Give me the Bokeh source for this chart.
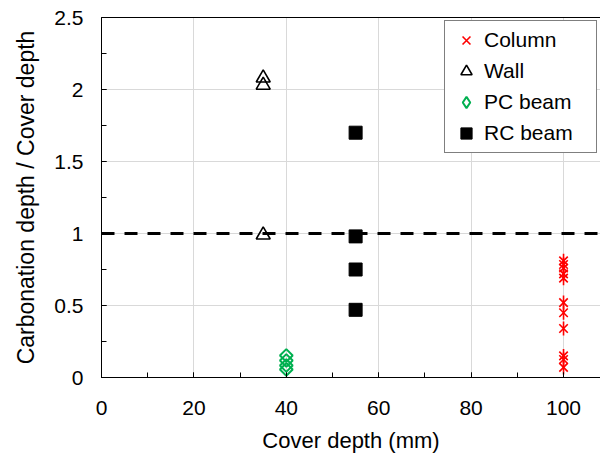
from bokeh.plotting import figure
from bokeh.models import (Span, Legend, LegendItem, LinearAxis, FixedTicker,
                          CustomJSTickFormatter, Range1d, SingleIntervalTicker)
from bokeh.embed import file_html
from bokeh.resources import INLINE

# ---- data ----
column_x = [100] * 11
column_y = [0.81, 0.785, 0.76, 0.72, 0.69, 0.52, 0.45, 0.34, 0.15, 0.125, 0.07]
wall_x = [35, 35, 35]
wall_y = [2.08, 2.03, 0.99]
pc_x = [40, 40, 40, 40]
pc_y = [0.153, 0.118, 0.083, 0.056]
rc_x = [55, 55, 55, 55]
rc_y = [1.70, 0.98, 0.75, 0.47]
threshold = 1.0
x_limits = (0, 108)
y_limits = (0, 2.5)

FONT = "Liberation Sans"

p = figure(frame_width=499, frame_height=360, output_backend="svg",
           toolbar_location=None, x_range=Range1d(*x_limits),
           y_range=Range1d(*y_limits), min_border_left=101,
           min_border_right=0, min_border_top=17, min_border_bottom=0,
           background_fill_color="white", border_fill_color="white")
p.outline_line_color = None

# grids
for g in (p.xgrid, p.ygrid):
    g.grid_line_color = "#d9d9d9"
    g.grid_line_width = 1

p.xaxis.ticker = SingleIntervalTicker(interval=20, num_minor_ticks=2)
p.yaxis.ticker = SingleIntervalTicker(interval=0.5, num_minor_ticks=2)
p.xgrid.ticker = p.xaxis.ticker
p.ygrid.ticker = p.yaxis.ticker

for ax in (p.xaxis[0], p.yaxis[0]):
    ax.axis_line_color = "black"
    ax.axis_line_width = 1
    ax.major_tick_in = 5
    ax.major_tick_out = 0
    ax.minor_tick_in = 5
    ax.minor_tick_out = 0
    ax.major_tick_line_color = "black"
    ax.minor_tick_line_color = "black"
    ax.major_label_text_font = FONT
    ax.major_label_text_font_size = "21px"
    ax.major_label_text_color = "black"
    ax.axis_label_text_font = FONT
    ax.axis_label_text_font_style = "normal"
    ax.axis_label_text_color = "black"
    ax.formatter = CustomJSTickFormatter(code="return String(Math.round(tick*100)/100);")

p.xaxis.major_label_standoff = 23
p.yaxis.major_label_standoff = 18
p.xaxis.axis_label = "Cover depth (mm)"
p.xaxis.axis_label_text_font_size = "22px"
p.xaxis.axis_label_standoff = 10
p.yaxis.axis_label = "Carbonation depth / Cover depth"
p.yaxis.axis_label_text_font_size = "23px"
p.yaxis.axis_label_standoff = 12

# top border line
top = LinearAxis(ticker=FixedTicker(ticks=[]), major_label_text_font_size="0px",
                 axis_line_color="black", major_tick_in=0, major_tick_out=0,
                 minor_tick_in=0, minor_tick_out=0)
p.add_layout(top, "above")

# threshold dashed line
span = Span(location=threshold, dimension="width", line_color="black",
            line_width=3, line_dash="13 10", level="underlay")
p.add_layout(span)

# series
r_col1 = p.scatter(column_x, column_y, marker="x", size=12, line_color="#ff0000",
                   line_width=1.6)
r_col2 = p.scatter(column_x, column_y, marker="dash", angle=1.5708, size=14,
                   line_color="#ff0000", line_width=1.6)
r_wall = p.scatter(wall_x, wall_y, marker="triangle", size=14, line_color="black",
                   fill_color=None, line_width=1.6)
r_pc = p.scatter(pc_x, pc_y, marker="square", angle=0.7854, size=9,
                 line_color="#00b050", fill_color=None, line_width=2)
# legend key only (not shown in the plot area)
r_pc_key = p.scatter(x=pc_x[:1], y=[float("nan")], marker="diamond", size=15,
                     line_color="#00b050", fill_color=None, line_width=2)
r_rc = p.scatter(rc_x, rc_y, marker="square", size=13, line_color="black",
                 fill_color="black")

legend = Legend(items=[
    LegendItem(label="Column", renderers=[r_col1]),
    LegendItem(label="Wall", renderers=[r_wall]),
    LegendItem(label="PC beam", renderers=[r_pc_key]),
    LegendItem(label="RC beam", renderers=[r_rc]),
], location="top_right", margin=3, padding=5, spacing=3,
   glyph_width=32, glyph_height=28, label_height=28, label_width=107,
   label_standoff=2, label_text_font=FONT, label_text_font_size="21px",
   label_text_color="black", border_line_color="black", border_line_width=1,
   background_fill_color="white", background_fill_alpha=1.0)
p.add_layout(legend)

open("out.html", "w").write(file_html(p, INLINE))
